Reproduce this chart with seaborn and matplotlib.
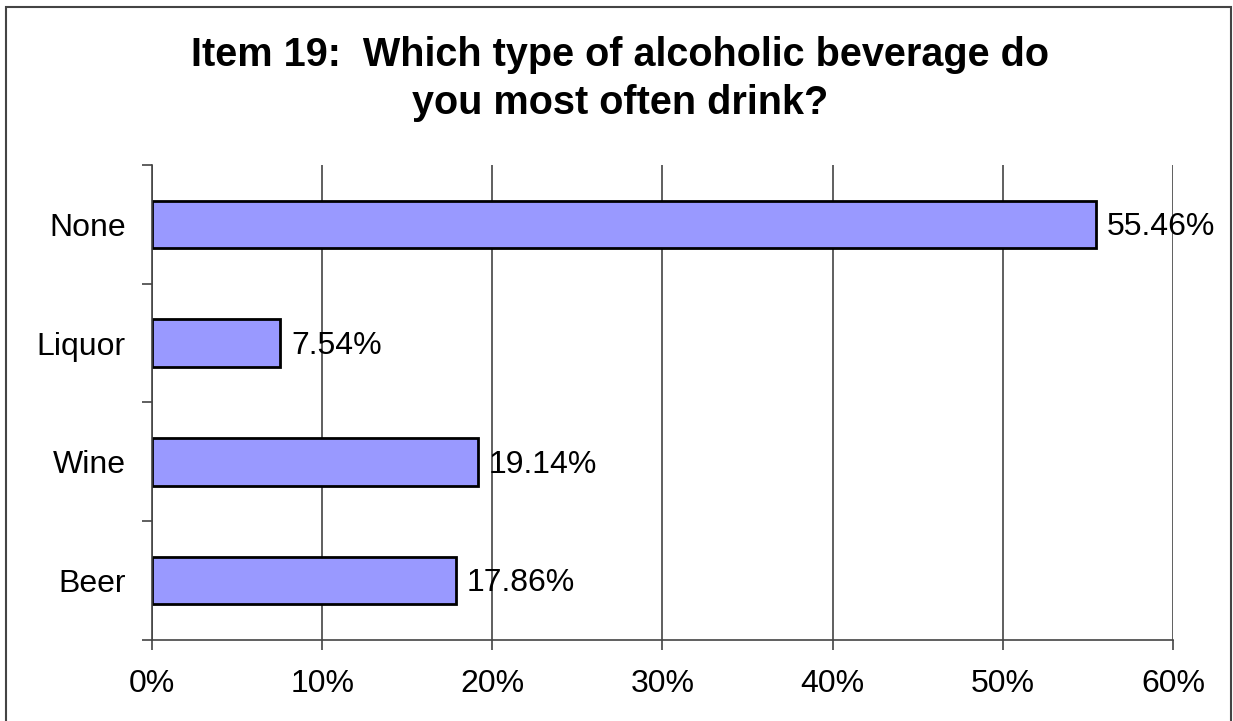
import matplotlib
matplotlib.use("Agg")
import matplotlib.pyplot as plt
from matplotlib.patches import Rectangle
from matplotlib.ticker import FixedLocator, PercentFormatter
import seaborn as sns
import pandas as pd

categories = ["None", "Liquor", "Wine", "Beer"]
shares = [55.46, 7.54, 19.14, 17.86]
x_ticks = [0, 10, 20, 30, 40, 50, 60]
title_lines = ["Item 19:  Which type of alcoholic beverage do", "you most often drink?"]

sns.set_theme(style="white")
plt.rcParams["font.family"] = ["Liberation Sans", "DejaVu Sans"]

LABEL_SIZE = 23
TITLE_SIZE = 28.5

df = pd.DataFrame({"category": categories, "share": shares})

fig = plt.figure(figsize=(12.33, 7.21), dpi=100)
ax = fig.add_axes([0.1233, 0.1123, 0.828, 0.659])

sns.barplot(data=df, x="share", y="category", orient="h", color="#9999FF",
            edgecolor="black", linewidth=2.0, width=0.4, saturation=1, ax=ax)

ax.set_xlim(0, 60)
ax.set_ylim(len(categories) - 0.5, -0.5)
ax.xaxis.set_major_locator(FixedLocator(x_ticks))
ax.xaxis.set_major_formatter(PercentFormatter(decimals=0))
ax.grid(axis="x", color="#444444", linewidth=1.2)
ax.set_axisbelow(True)
ax.set_xlabel("")
ax.set_ylabel("")

for side in ("top", "right"):
    ax.spines[side].set_visible(False)
for side in ("left", "bottom"):
    ax.spines[side].set_color("#444444")
    ax.spines[side].set_linewidth(1.2)

ax.yaxis.set_minor_locator(FixedLocator([i - 0.5 for i in range(len(categories) + 1)]))
ax.tick_params(axis="y", which="major", length=0, pad=19, labelsize=LABEL_SIZE, labelcolor="black")
ax.tick_params(axis="y", which="minor", left=True, length=7.5, width=1.2, color="#444444")
ax.tick_params(axis="x", which="major", bottom=True, length=7.5, width=1.2, color="#444444",
               pad=13, labelsize=LABEL_SIZE, labelcolor="black")

for i, v in enumerate(shares):
    ax.annotate(f"{v:.2f}%", xy=(v, i), xytext=(8, -2), textcoords="offset points",
                va="center", ha="left", fontsize=LABEL_SIZE, color="black")

fig.text(0.503, 1 - 66 / 721, title_lines[0], ha="center", va="baseline",
         fontsize=TITLE_SIZE, fontweight="bold", color="black")
fig.text(0.503, 1 - 114 / 721, title_lines[1], ha="center", va="baseline",
         fontsize=TITLE_SIZE, fontweight="bold", color="black")

fig.patches.append(Rectangle((6 / 1233, -0.05), (1231 - 6) / 1233, 1.05 - 7 / 721,
                             transform=fig.transFigure, fill=False,
                             edgecolor="#444444", linewidth=1.5))

fig.savefig("out.png", dpi=100, facecolor="white")
